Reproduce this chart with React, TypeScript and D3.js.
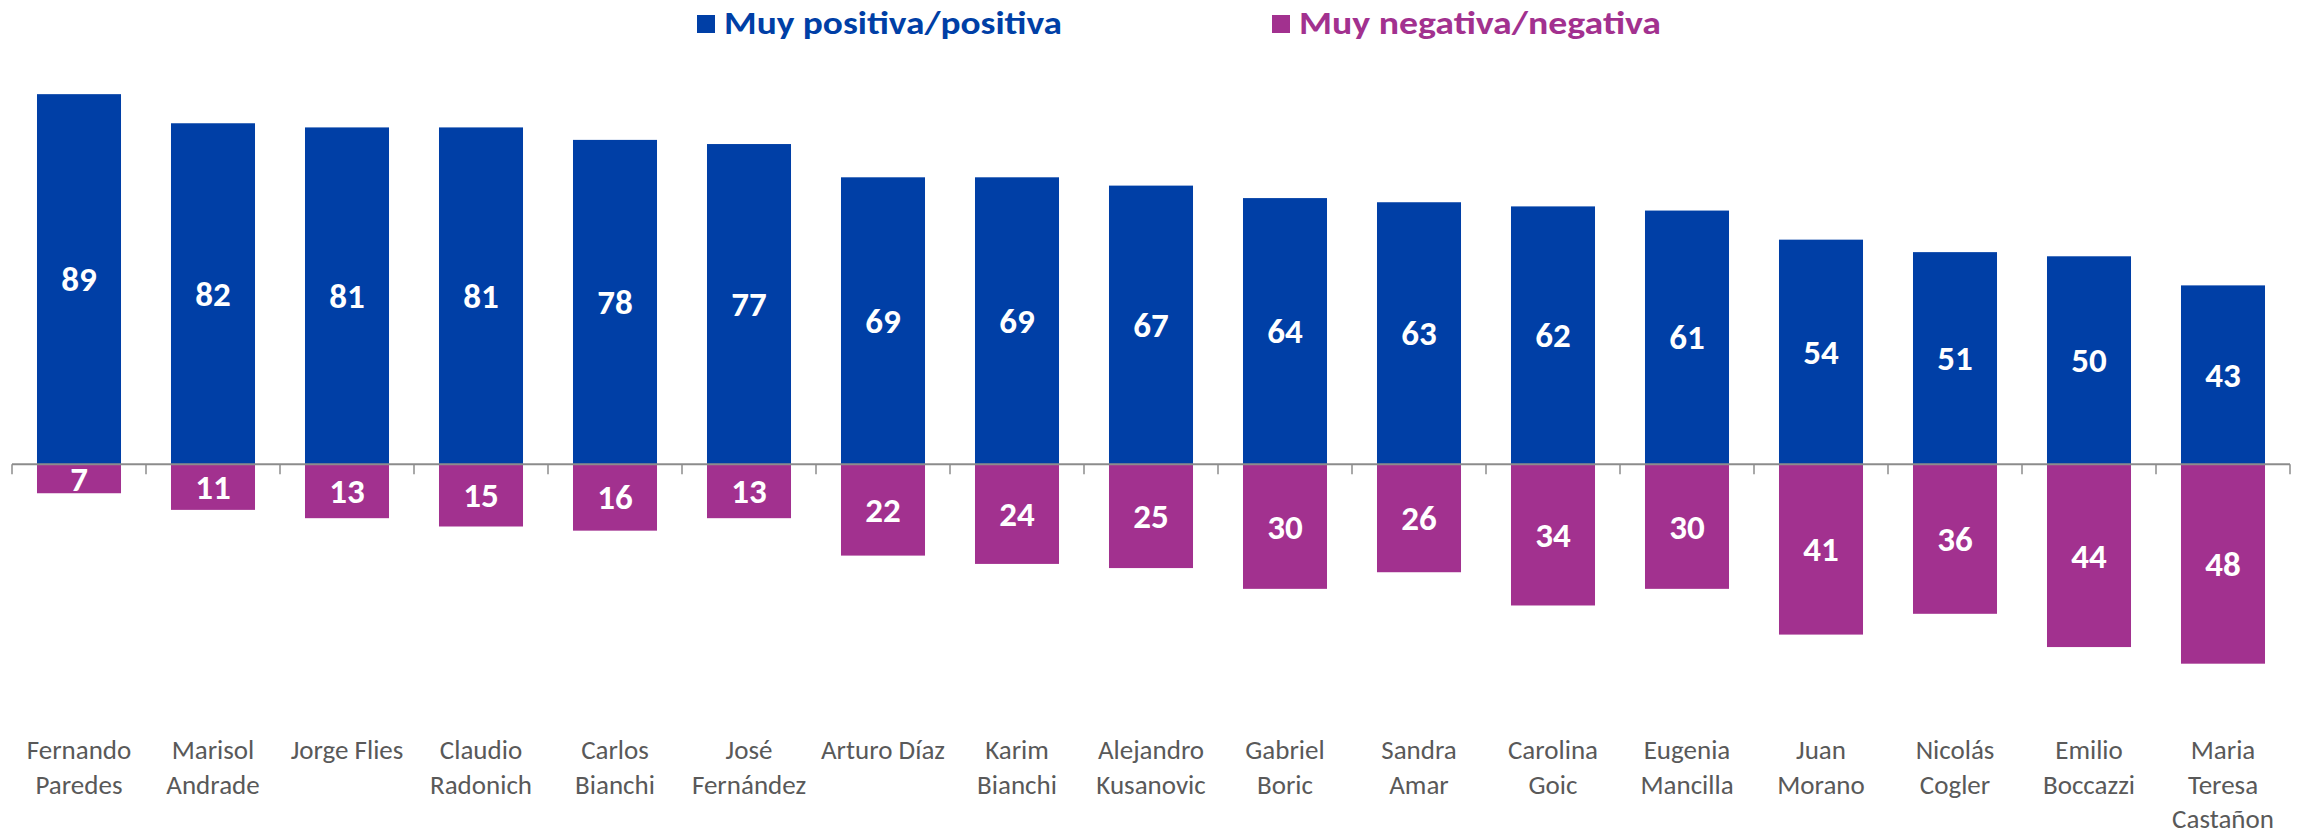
import React, { useRef, useEffect } from 'react';
import * as d3 from 'd3';

const WIDTH = 2305;
const HEIGHT = 833;
const FONT = 'Calibri, Carlito, Lato, sans-serif';

const candidates = [
  'Fernando\nParedes', 'Marisol\nAndrade', 'Jorge Flies', 'Claudio\nRadonich', 'Carlos\nBianchi',
  'José\nFernández', 'Arturo Díaz', 'Karim\nBianchi', 'Alejandro\nKusanovic', 'Gabriel\nBoric',
  'Sandra\nAmar', 'Carolina\nGoic', 'Eugenia\nMancilla', 'Juan\nMorano', 'Nicolás\nCogler',
  'Emilio\nBoccazzi', 'Maria\nTeresa\nCastañon',
];
const positive = [89, 82, 81, 81, 78, 77, 69, 69, 67, 64, 63, 62, 61, 54, 51, 50, 43];
const negative = [7, 11, 13, 15, 16, 13, 22, 24, 25, 30, 26, 34, 30, 41, 36, 44, 48];
const seriesNames = ['Muy positiva/positiva', 'Muy negativa/negativa'];
const seriesColors = ['#003FA6', '#A2318F'];

export default function App() {
  const svgRef = useRef<SVGSVGElement>(null);

  useEffect(() => {
    if (!svgRef.current) return;
    const svg = d3.select(svgRef.current);
    svg.selectAll('*').remove();

    const x = d3.scaleBand<number>()
      .domain(d3.range(candidates.length))
      .range([12, 2290])
      .paddingInner(0.373)
      .paddingOuter(0.1865);

    const y = d3.scaleLinear().domain([-50, 90]).range([672, 90]);
    const step = x.step();
    const x0 = x.range()[0];

    // Bars
    svg.append('g').selectAll('rect')
      .data(positive)
      .join('rect')
      .attr('x', (_, i) => x(i)!)
      .attr('y', d => y(d))
      .attr('width', x.bandwidth())
      .attr('height', d => y(0) - y(d))
      .attr('fill', seriesColors[0]);

    svg.append('g').selectAll('rect')
      .data(negative)
      .join('rect')
      .attr('x', (_, i) => x(i)!)
      .attr('y', y(0))
      .attr('width', x.bandwidth())
      .attr('height', d => y(-d) - y(0))
      .attr('fill', seriesColors[1]);

    // Axis line + ticks at band boundaries
    const axis = svg.append('g');
    axis.append('line')
      .attr('x1', x0).attr('x2', x.range()[1])
      .attr('y1', y(0)).attr('y2', y(0))
      .attr('stroke', '#8C8C8C').attr('stroke-width', 2);
    axis.selectAll('line.tick')
      .data(d3.range(candidates.length + 1))
      .join('line')
      .attr('class', 'tick')
      .attr('x1', i => x0 + i * step).attr('x2', i => x0 + i * step)
      .attr('y1', y(0)).attr('y2', y(0) + 10)
      .attr('stroke', '#8C8C8C').attr('stroke-width', 1.5);

    // Value labels
    const labelStyle = (sel: any) => sel
      .attr('text-anchor', 'middle')
      .attr('dominant-baseline', 'central')
      .attr('font-family', FONT)
      .attr('font-weight', 700)
      .attr('font-size', 35)
      .attr('fill', '#FFFFFF');

    svg.append('g').selectAll('text')
      .data(positive)
      .join('text')
      .attr('x', (_, i) => x(i)! + x.bandwidth() / 2)
      .attr('y', d => (y(d) + y(0)) / 2)
      .call(labelStyle)
      .text(d => d);

    svg.append('g').selectAll('text')
      .data(negative)
      .join('text')
      .attr('x', (_, i) => x(i)! + x.bandwidth() / 2)
      .attr('y', d => (y(-d) + y(0)) / 2)
      .call(labelStyle)
      .text(d => d);

    // Category labels
    const cats = svg.append('g').selectAll('text')
      .data(candidates)
      .join('text')
      .attr('x', (_, i) => x(i)! + x.bandwidth() / 2)
      .attr('y', 759)
      .attr('text-anchor', 'middle')
      .attr('font-family', FONT)
      .attr('font-size', 27)
      .attr('fill', '#595959');
    cats.each(function (d) {
      const t = d3.select(this);
      d.split('\n').forEach((line, j) => {
        t.append('tspan')
          .attr('x', t.attr('x'))
          .attr('dy', j === 0 ? 0 : 34.5)
          .text(line);
      });
    });

    // Legend
    const legendX = [697, 1272];
    const legendW = [338, 362];
    const legend = svg.append('g');
    seriesNames.forEach((name, i) => {
      legend.append('rect')
        .attr('x', legendX[i]).attr('y', 15)
        .attr('width', 18).attr('height', 18)
        .attr('fill', seriesColors[i]);
      legend.append('text')
        .attr('x', legendX[i] + 27).attr('y', 34)
        .attr('font-family', FONT)
        .attr('font-weight', 700)
        .attr('font-size', 32)
        .attr('textLength', legendW[i])
        .attr('lengthAdjust', 'spacingAndGlyphs')
        .attr('fill', seriesColors[i])
        .text(name);
    });
  }, []);

  return (
    <svg
      ref={svgRef}
      width={WIDTH}
      height={HEIGHT}
      style={{ position: 'absolute', left: 0, top: 0, background: '#FFFFFF' }}
    />
  );
}
